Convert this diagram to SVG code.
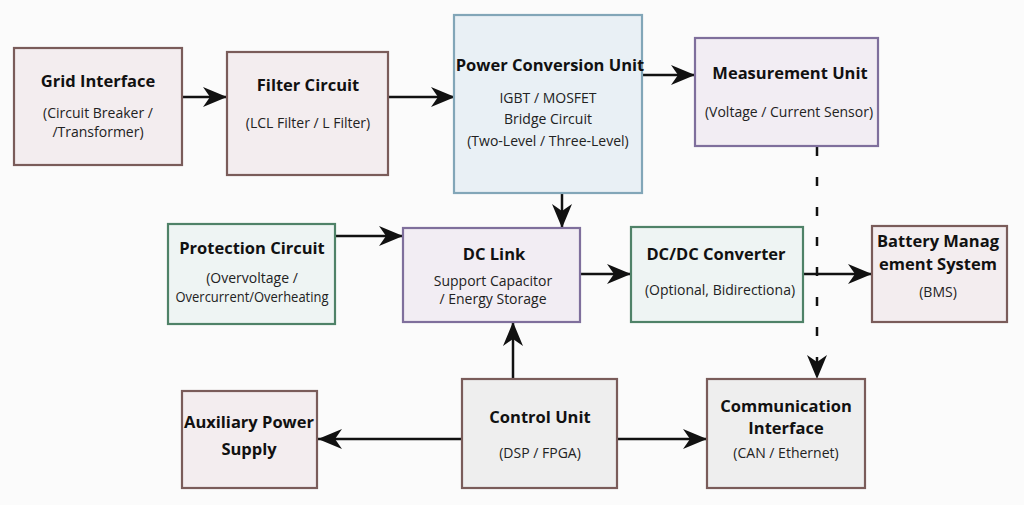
<svg xmlns="http://www.w3.org/2000/svg" width="1024" height="505" viewBox="0 0 1024 505">
<defs>
<marker id="ah" markerUnits="userSpaceOnUse" markerWidth="26" markerHeight="22" viewBox="0 0 26 22" refX="24" refY="11" orient="auto">
<path d="M0,1 L24,11 L0,21 L7,11 z" fill="#111"/>
</marker>
<style>
.box{stroke-width:2.2}
.brown{fill:#f3edef;stroke:#7a5c5a}
.blue{fill:#e9f0f5;stroke:#82a6b8}
.purple{fill:#f2edf3;stroke:#7f6f9c}
.green{fill:#eef4f3;stroke:#4f8268}
.grey{fill:#eeeeee;stroke:#7a5c5a}
.t{font-family:"Open Sans","Noto Sans",sans-serif;font-weight:bold;font-size:16.5px;fill:#111;text-anchor:middle}
.s{font-family:"Open Sans","Noto Sans",sans-serif;font-size:14px;fill:#222;text-anchor:middle}
.c{fill:none;stroke:#111;stroke-width:2.5}
</style>
</defs>
<rect width="1024" height="505" fill="#fbfbfb"/>
<g id="connectors">
<line class="c" x1="182" y1="97" x2="227" y2="97" marker-end="url(#ah)"/>
<line class="c" x1="388" y1="97" x2="455" y2="97" marker-end="url(#ah)"/>
<line class="c" x1="642" y1="75" x2="695" y2="75" marker-end="url(#ah)"/>
<line class="c" x1="562" y1="193" x2="562" y2="228" marker-end="url(#ah)"/>
<line class="c" x1="335" y1="236" x2="403" y2="236" marker-end="url(#ah)"/>
<line class="c" x1="580" y1="274" x2="631" y2="274" marker-end="url(#ah)"/>
<line class="c" x1="802" y1="274" x2="872" y2="274" marker-end="url(#ah)"/>
<line class="c" x1="513" y1="380" x2="513" y2="322" marker-end="url(#ah)"/>
<line class="c" x1="462" y1="439" x2="318" y2="439" marker-end="url(#ah)"/>
<line class="c" x1="617" y1="439" x2="707" y2="439" marker-end="url(#ah)"/>
<line class="c" x1="817" y1="147" x2="817" y2="379" stroke-dasharray="9 21" marker-end="url(#ah)"/>
</g>
<g id="grid-interface">
<rect class="box brown" x="14" y="48" width="168" height="117"/>
<text class="t" x="98" y="87">Grid Interface</text>
<text class="s" x="98" y="118">(Circuit Breaker /</text>
<text class="s" x="98" y="137">/Transformer)</text>
</g>
<g id="filter-circuit">
<rect class="box brown" x="227" y="52" width="161" height="123"/>
<text class="t" x="308" y="91">Filter Circuit</text>
<text class="s" x="308" y="128">(LCL Filter / L Filter)</text>
</g>
<g id="power-conversion-unit">
<rect class="box blue" x="454" y="15" width="188" height="178"/>
<text class="t" x="550" y="71">Power Conversion Unit</text>
<text class="s" x="548" y="103">IGBT / MOSFET</text>
<text class="s" x="548" y="124">Bridge Circuit</text>
<text class="s" x="548" y="146">(Two-Level / Three-Level)</text>
</g>
<g id="measurement-unit">
<rect class="box purple" x="695" y="38" width="183" height="108"/>
<text class="t" x="790" y="79">Measurement Unit</text>
<text class="s" x="789" y="117">(Voltage / Current Sensor)</text>
</g>
<g id="protection-circuit">
<rect class="box green" x="168" y="224" width="167" height="100"/>
<text class="t" x="252" y="254">Protection Circuit</text>
<text class="s" x="252" y="283">(Overvoltage /</text>
<text class="s" x="252" y="302" textLength="153" lengthAdjust="spacingAndGlyphs">Overcurrent/Overheating</text>
</g>
<g id="dc-link">
<rect class="box purple" x="403" y="228" width="177" height="94"/>
<text class="t" x="494" y="260">DC Link</text>
<text class="s" x="493" y="286">Support Capacitor</text>
<text class="s" x="493" y="304">/ Energy Storage</text>
</g>
<g id="dc-dc-converter">
<rect class="box green" x="631" y="227" width="172" height="95"/>
<text class="t" x="716" y="260">DC/DC Converter</text>
<text class="s" x="720" y="295">(Optional, Bidirectiona)</text>
</g>
<g id="bms">
<rect class="box brown" x="872" y="226" width="135" height="96"/>
<text class="t" x="938" y="247">Battery Manag</text>
<text class="t" x="938" y="270">ement System</text>
<text class="s" x="938" y="297">(BMS)</text>
</g>
<g id="auxiliary-power-supply">
<rect class="box brown" x="182" y="391" width="135" height="97"/>
<text class="t" x="249" y="428">Auxiliary Power</text>
<text class="t" x="249" y="455">Supply</text>
</g>
<g id="control-unit">
<rect class="box grey" x="462" y="379" width="155" height="109"/>
<text class="t" x="540" y="423">Control Unit</text>
<text class="s" x="540" y="458">(DSP / FPGA)</text>
</g>
<g id="communication-interface">
<rect class="box grey" x="707" y="379" width="158" height="109"/>
<text class="t" x="786" y="412">Communication</text>
<text class="t" x="786" y="434">Interface</text>
<text class="s" x="786" y="458">(CAN / Ethernet)</text>
</g>
</svg>
